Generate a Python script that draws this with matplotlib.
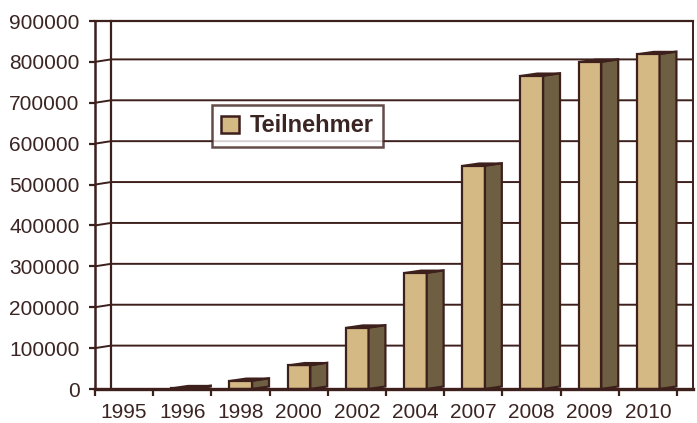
import numpy as np
import matplotlib.pyplot as plt
from matplotlib.patches import Polygon, Patch

years = ["1995", "1996", "1998", "2000", "2002", "2004", "2007", "2008", "2009", "2010"]
teilnehmer = [0, 2000, 20000, 58000, 150000, 284000, 546000, 766000, 800000, 819000]
y_ticks = [0, 100000, 200000, 300000, 400000, 500000, 600000, 700000, 800000, 900000]

# colours
front_col = "#D5B985"
side_col = "#6E5E42"
line_col = "#3D1F1C"
text_col = "#3A2523"

plt.rcParams["font.family"] = ["Liberation Sans", "DejaVu Sans"]

W, H = 697, 423
fig = plt.figure(figsize=(W / 100, H / 100), dpi=100)

# plot area in pixels: front axis x 95..677, back wall to 693, floor 389, top 21
left_px, right_px, bottom_px, top_px = 95, 693, 389, 21
ax = fig.add_axes([left_px / W, (H - bottom_px) / H,
                   (right_px - left_px) / W, (bottom_px - top_px) / H])

n = len(years)
unit_px = (677 - left_px) / n
dx = (right_px - 677) / unit_px          # depth offset of the back wall
ymax = 900000
px_y = ymax / (bottom_px - top_px)
dy = 2.5 * px_y                           # back wall sits slightly higher

ax.set_xlim(0, n + dx)
ax.set_ylim(0, ymax)
for s in ax.spines.values():
    s.set_visible(False)

# walls
lw_grid = 1.4
ax.plot([0, 0], [0, ymax], color=line_col, lw=1.8, zorder=2, clip_on=False)
ax.plot([dx, dx], [dy, ymax], color=line_col, lw=1.6, zorder=2, clip_on=False)
ax.plot([n + dx, n + dx], [dy, ymax], color=line_col, lw=1.4, zorder=2, clip_on=False)
ax.plot([0, n + dx], [ymax, ymax], color=line_col, lw=1.6, zorder=2, clip_on=False)

# gridlines on the back wall with slanted connectors
for v in y_ticks[1:-1]:
    ax.plot([0, dx, n + dx], [v, v + dy, v + dy], color=line_col, lw=lw_grid,
            zorder=1, solid_joinstyle="miter")

# floor / x axis
ax.plot([0, n + dx], [0, 0], color=line_col, lw=2.4, zorder=5, clip_on=False)

# bars: front face, side face, top face
f0, f1, s1 = 0.31, 0.70, 0.99
bdy = 2.5 * px_y
for i, v in enumerate(teilnehmer):
    if v <= 0:
        continue
    x0, x1, x2 = i + f0, i + f1, i + s1
    front = Polygon([(x0, 0), (x1, 0), (x1, v), (x0, v)], closed=True,
                    facecolor=front_col, edgecolor=line_col, lw=1.6, zorder=3)
    side = Polygon([(x1, 0), (x2, bdy), (x2, v + bdy), (x1, v)], closed=True,
                   facecolor=side_col, edgecolor=line_col, lw=1.6, zorder=3)
    top = Polygon([(x0, v), (x1, v), (x2, v + bdy), (x0 + (s1 - f1), v + bdy)],
                  closed=True, facecolor=line_col, edgecolor=line_col, lw=1.2, zorder=4)
    ax.add_patch(front)
    ax.add_patch(side)
    ax.add_patch(top)

# y ticks
ax.set_yticks(y_ticks)
ax.set_yticklabels([str(v) for v in y_ticks])
ax.tick_params(axis="y", length=4, width=1.6, color=line_col, pad=7,
               labelsize=15, labelcolor=text_col)

# x ticks: labels centred, marks at category boundaries
ax.set_xticks(np.arange(n) + 0.5)
ax.set_xticklabels(years)
ax.set_xticks(np.arange(n + 1), minor=True)
ax.tick_params(axis="x", which="major", length=0, pad=10,
               labelsize=15, labelcolor=text_col)
ax.tick_params(axis="x", which="minor", length=5, width=1.6, color=line_col)

# legend
handle = Patch(facecolor=front_col, edgecolor=line_col, lw=1.8)
leg = fig.legend([handle], ["Teilnehmer"], loc="upper left",
                 bbox_to_anchor=(212 / W, 1 - 105 / H),
                 prop={"weight": "bold", "size": 17}, frameon=True,
                 fancybox=False, handlelength=0.75, handleheight=0.75,
                 handletextpad=0.45, borderpad=0.4, borderaxespad=0)
leg.get_frame().set_edgecolor(line_col)
leg.get_frame().set_linewidth(1.8)
for t in leg.get_texts():
    t.set_color(text_col)

fig.savefig("out.png", dpi=100)
